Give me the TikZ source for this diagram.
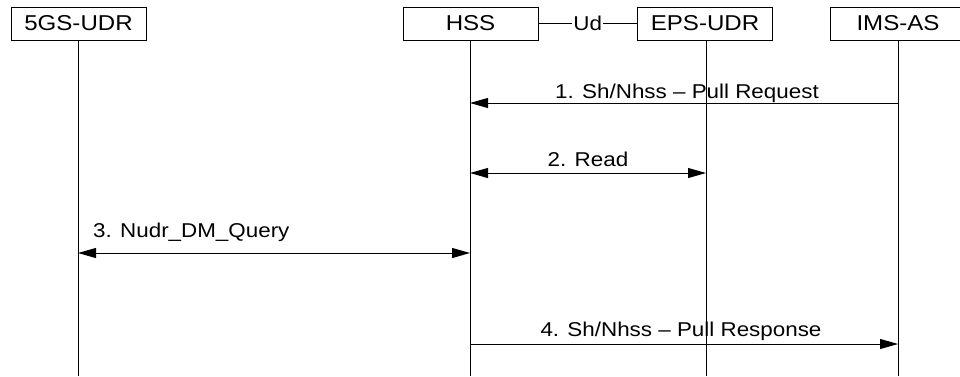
\documentclass[tikz,border=0pt]{standalone}
\usepackage{fontspec}
\setmainfont{Liberation Sans}[FakeStretch=1.12]
\usetikzlibrary{arrows.meta}
\begin{document}
\begin{tikzpicture}[x=1pt,y=-1pt,
  entity/.style={draw,line width=1pt,minimum width=135pt,minimum height=33pt,inner sep=0pt,font=\fontsize{21.5}{23}\selectfont},
  life/.style={line width=1pt},
  msg/.style={line width=1pt},
  tipend/.style={-{Triangle[length=18pt,width=10pt]}},
  tipboth/.style={{Triangle[length=18pt,width=10pt]}-{Triangle[length=18pt,width=10pt]}},
  lbl/.style={font=\fontsize{20}{22}\selectfont,inner sep=0pt,anchor=base}]
\useasboundingbox (0,0) rectangle (960,376);
\clip (0,0) rectangle (960,376);
% entities
\node[entity] (udr5) at (78.5,23.5) {5GS-UDR};
\node[entity] (hss) at (470.5,23.5) {HSS};
\node[entity] (eps) at (705,23.5) {EPS-UDR};
\node[entity] (ims) at (898,23.5) {IMS-AS};
% Ud interface
\draw[line width=1pt] (hss.east) -- node[fill=white,inner sep=1pt,font=\fontsize{20}{22}\selectfont] (ud) {Ud} (eps.west);
% lifelines
\coordinate (udr5b) at (78,376);
\coordinate (hssb) at (470,376);
\coordinate (epsb) at (706,376);
\coordinate (imsb) at (898,376);
\draw[life] (78,40) coordinate (udr5t) -- (udr5b);
\draw[life] (470,40) coordinate (hsst) -- (hssb);
\draw[life] (706,40) coordinate (epst) -- (epsb);
\draw[life] (898,40) coordinate (imst) -- (imsb);
% messages
\coordinate (m1a) at (imst |- 0,103);
\coordinate (m1b) at (hsst |- 0,103);
\draw[msg,tipend] (m1a) -- (m1b);
\node[lbl] (l1) at (687,98) {1. Sh/Nhss – Pull Request};
\coordinate (m2a) at (hsst |- 0,173);
\coordinate (m2b) at (epst |- 0,173);
\draw[msg,tipboth] (m2a) -- (m2b);
\node[lbl] (l2) at (588,166) {2. Read};
\coordinate (m3a) at (udr5t |- 0,253);
\coordinate (m3b) at (hsst |- 0,253);
\draw[msg,tipboth] (m3a) -- (m3b);
\node[lbl,anchor=base west] (l3) at (93,237) {3. Nudr\_DM\_Query};
\coordinate (m4a) at (hsst |- 0,344);
\coordinate (m4b) at (imst |- 0,344);
\draw[msg,tipend] (m4a) -- (m4b);
\node[lbl] (l4) at (681,336) {4. Sh/Nhss – Pull Response};
\end{tikzpicture}
\end{document}
